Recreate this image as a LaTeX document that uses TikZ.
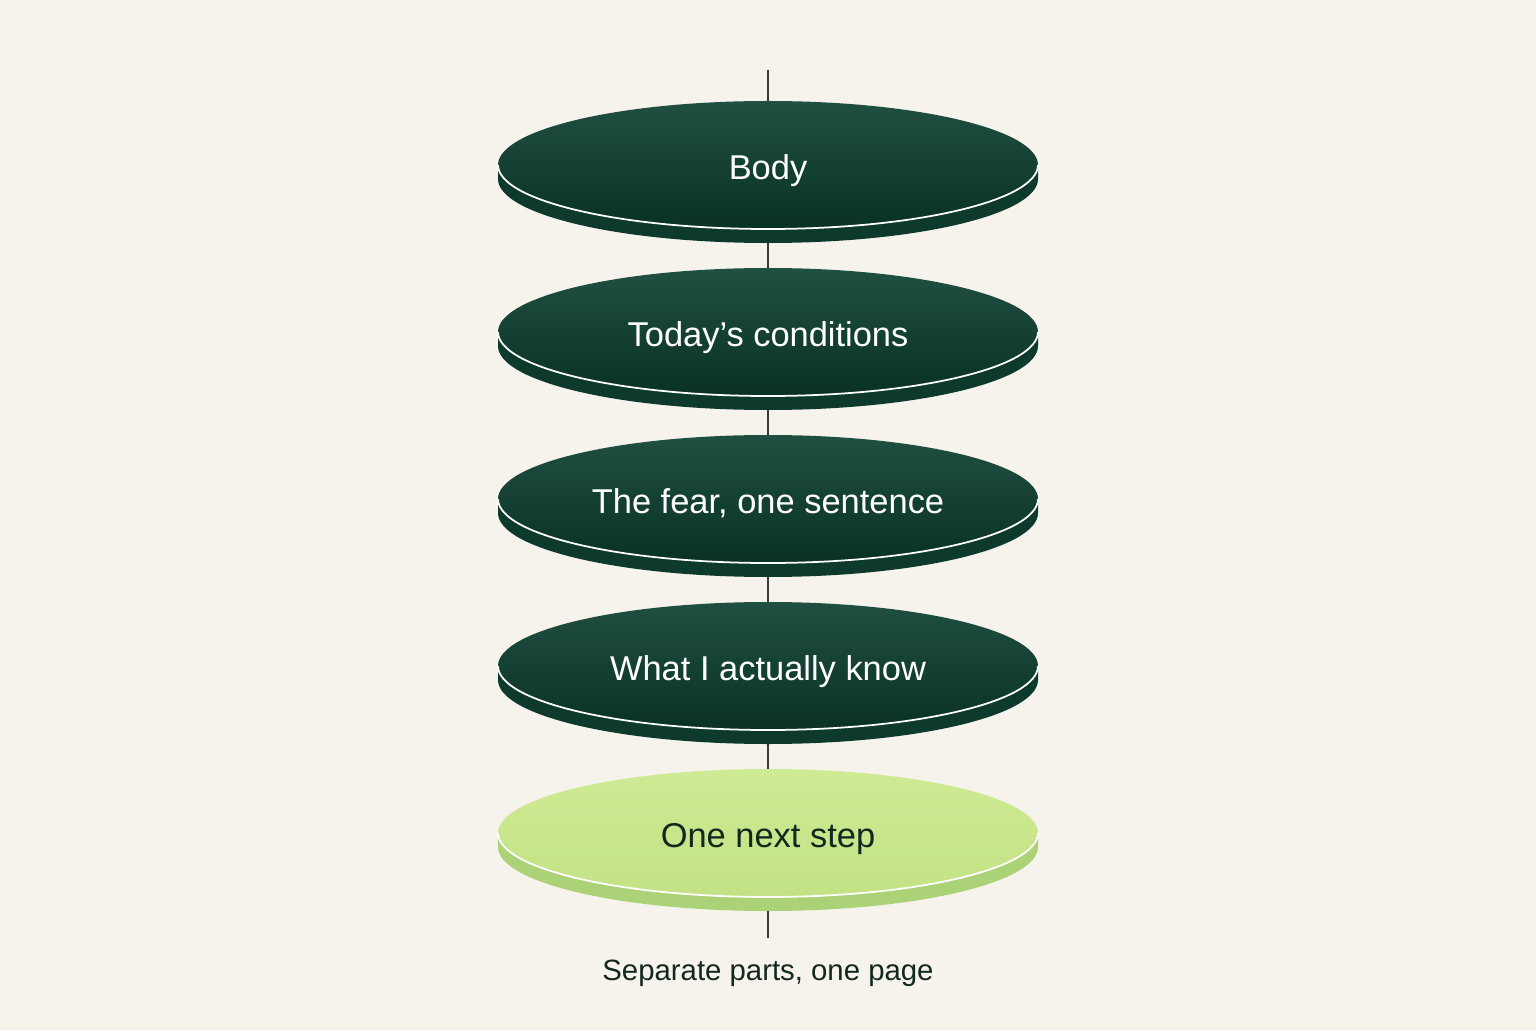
\documentclass[tikz,border=0pt]{standalone}
\usepackage{fontspec}
\setmainfont{Liberation Sans}
\usetikzlibrary{positioning,shapes.geometric}
\definecolor{paper}{HTML}{F5F3EC}
\definecolor{facetop}{HTML}{205042}
\definecolor{facebot}{HTML}{093125}
\definecolor{sidedark}{HTML}{0E392D}
\definecolor{facelighttop}{HTML}{CFEA94}
\definecolor{facelightbot}{HTML}{C3E284}
\definecolor{sidelight}{HTML}{ACD278}
\definecolor{stemcol}{HTML}{3A3A3A}
\definecolor{inkcol}{HTML}{12281D}

\begin{document}
\begin{tikzpicture}
	\tikzset{disc/.style= {ellipse, inner sep=0, outer sep=0, minimum width=5.4cm, minimum height=1.28cm,
			text height=9pt, text depth=.5pt,
			top color=facetop, bottom color=facebot, text=white, font=\fontsize{9.8}{11}\selectfont},
		lightdisc/.style={disc, top color=facelighttop, bottom color=facelightbot, text=inkcol},
		side/.style={fill=sidedark},
		lightside/.style={fill=sidelight},
		rim/.style={draw=white, line width=0.5pt},
		stem/.style={draw=stemcol, line width=0.5pt},
	}
	\fill[paper] (0,0) rectangle (15.36,10.30);
	\useasboundingbox (0,0) rectangle (15.36,10.30);
	\node [disc] (body) at (7.68,8.65) {Body};
	\node [disc, below = .39cm of body] (cond) {Today’s conditions};
	\node [disc, below = .39cm of cond] (fear) {The fear, one sentence};
	\node [disc, below = .39cm of fear] (know) {What I actually know};
	\node [lightdisc, below = .39cm of know] (next) {One next step};
	\node [inner sep=0, anchor=base, font=\fontsize{8.35}{10}\selectfont, text=inkcol] (capt) at (7.68,0.50) {Separate parts, one page};
	\coordinate (top) at (7.68,9.60);
	\coordinate (bot) at (7.68,0.92);
	% sides
	\path[side] (body.west) -- ++(0,-.14) arc[start angle=180, end angle=360, x radius=2.7cm, y radius=.64cm] -- (body.east) arc[start angle=0, end angle=-180, x radius=2.7cm, y radius=.64cm] -- cycle;
	\path[side] (cond.west) -- ++(0,-.14) arc[start angle=180, end angle=360, x radius=2.7cm, y radius=.64cm] -- (cond.east) arc[start angle=0, end angle=-180, x radius=2.7cm, y radius=.64cm] -- cycle;
	\path[side] (fear.west) -- ++(0,-.14) arc[start angle=180, end angle=360, x radius=2.7cm, y radius=.64cm] -- (fear.east) arc[start angle=0, end angle=-180, x radius=2.7cm, y radius=.64cm] -- cycle;
	\path[side] (know.west) -- ++(0,-.14) arc[start angle=180, end angle=360, x radius=2.7cm, y radius=.64cm] -- (know.east) arc[start angle=0, end angle=-180, x radius=2.7cm, y radius=.64cm] -- cycle;
	\path[lightside] (next.west) -- ++(0,-.14) arc[start angle=180, end angle=360, x radius=2.7cm, y radius=.64cm] -- (next.east) arc[start angle=0, end angle=-180, x radius=2.7cm, y radius=.64cm] -- cycle;
	% rims
	\path[rim] (body.west) arc[start angle=180, end angle=360, x radius=2.7cm, y radius=.64cm];
	\path[rim] (cond.west) arc[start angle=180, end angle=360, x radius=2.7cm, y radius=.64cm];
	\path[rim] (fear.west) arc[start angle=180, end angle=360, x radius=2.7cm, y radius=.64cm];
	\path[rim] (know.west) arc[start angle=180, end angle=360, x radius=2.7cm, y radius=.64cm];
	\path[rim] (next.west) arc[start angle=180, end angle=360, x radius=2.7cm, y radius=.64cm];
	% stem
	\path[stem] (top) -- (body.north);
	\path[stem] ([yshift=-.14cm]body.south) -- (cond.north);
	\path[stem] ([yshift=-.14cm]cond.south) -- (fear.north);
	\path[stem] ([yshift=-.14cm]fear.south) -- (know.north);
	\path[stem] ([yshift=-.14cm]know.south) -- (next.north);
	\path[stem] ([yshift=-.14cm]next.south) -- (bot);
\end{tikzpicture}
\end{document}
